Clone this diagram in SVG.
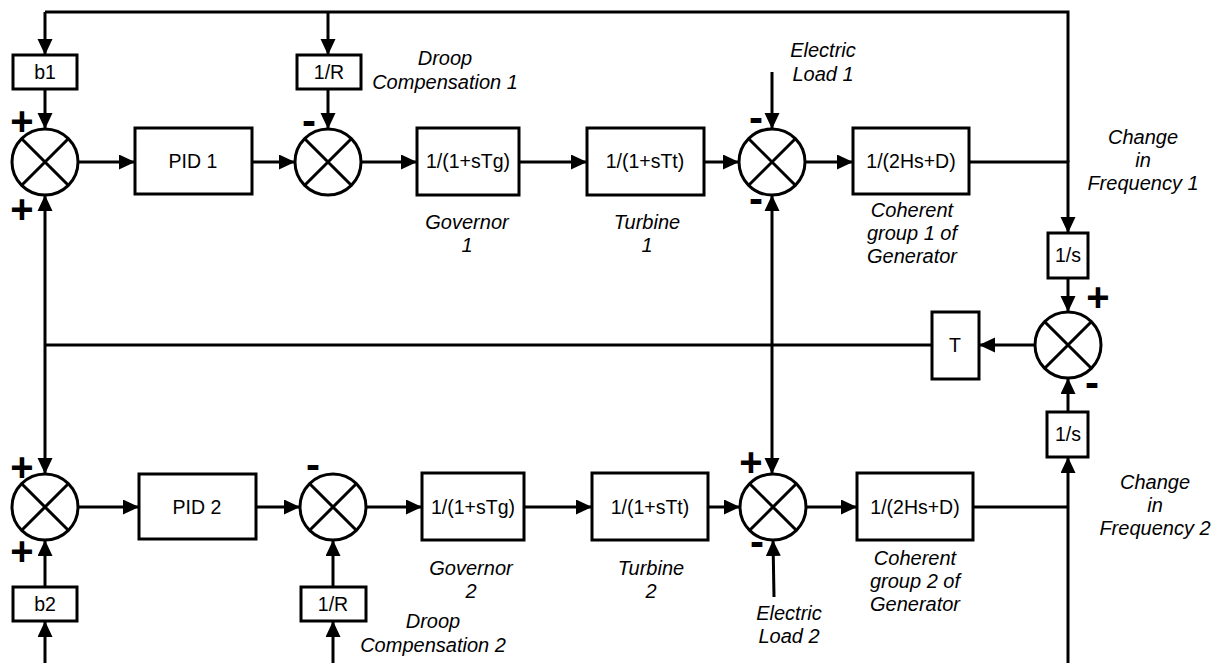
<svg xmlns="http://www.w3.org/2000/svg" width="1223" height="663" viewBox="0 0 1223 663">
<style>
  .ln{fill:none;stroke:#000;stroke-width:3}
  .arr{fill:none;stroke:#000;stroke-width:3;marker-end:url(#ah)}
  .arr2{fill:none;stroke:#000;stroke-width:3;marker-start:url(#ahs);marker-end:url(#ah)}
  .box{fill:#fff;stroke:#000;stroke-width:3}
  .sum{fill:#fff;stroke:#000;stroke-width:3}
  .bt{font-family:"Liberation Sans",Arial,sans-serif;font-size:19.5px;text-anchor:middle;fill:#000}
  .lb{font-family:"Liberation Sans",Arial,sans-serif;font-size:20px;font-style:italic;text-anchor:middle;fill:#000}
  .pl{font-family:"Liberation Sans",Arial,sans-serif;font-size:40px;font-weight:bold;text-anchor:middle;fill:#000}
  .mi{font-family:"Liberation Sans",Arial,sans-serif;font-size:42px;font-weight:bold;text-anchor:middle;fill:#000}
</style>
<defs>
  <marker id="ah" markerUnits="userSpaceOnUse" markerWidth="16" markerHeight="16" refX="16" refY="7.5" orient="auto">
    <path d="M0,0 L16,7.5 L0,15 z" fill="#000"/>
  </marker>
  <marker id="ahs" markerUnits="userSpaceOnUse" markerWidth="16" markerHeight="16" refX="0" refY="7.5" orient="auto">
    <path d="M16,0 L0,7.5 L16,15 z" fill="#000"/>
  </marker>
  <g id="sj">
    <circle cx="0" cy="0" r="33" class="sum"/>
    <path d="M-23.3,-23.3 L23.3,23.3 M23.3,-23.3 L-23.3,23.3" class="ln"/>
  </g>
</defs>
<rect width="1223" height="663" fill="#fff"/>

<g id="connectors">
  <path class="ln" d="M45,12 L1068,12 L1068,162"/>
  <path class="arr" d="M45,12 L45,55"/>
  <path class="arr" d="M328,12 L328,55"/>
  <path class="arr" d="M45,89 L45,129"/>
  <path class="arr" d="M328,89 L328,129"/>
  <path class="arr" d="M78,162 L135,162"/>
  <path class="arr" d="M252,162 L295,162"/>
  <path class="arr" d="M361,162 L417,162"/>
  <path class="arr" d="M519,162 L587,162"/>
  <path class="arr" d="M704,162 L739,162"/>
  <path class="arr" d="M805,162 L853,162"/>
  <path class="arr" d="M969,162 L1068,162 L1068,233"/>
  <path class="arr" d="M772,72 L772,129"/>
  <path class="arr2" d="M45,195 L45,474"/>
  <path class="arr2" d="M772,195 L772,474"/>
  <path class="arr" d="M1068,278 L1068,312"/>
  <path class="arr" d="M1035,345 L979,345"/>
  <path class="ln" d="M932,345 L45,345"/>
  <path class="arr" d="M1068,412 L1068,378"/>
  <path class="arr" d="M1068,663 L1068,457"/>
  <path class="arr" d="M78,507 L139,507"/>
  <path class="arr" d="M256,507 L300,507"/>
  <path class="arr" d="M366,507 L422,507"/>
  <path class="arr" d="M524,507 L592,507"/>
  <path class="arr" d="M708,507 L740,507"/>
  <path class="arr" d="M806,507 L857,507"/>
  <path class="ln" d="M973,507 L1068,507"/>
  <path class="arr" d="M45,587 L45,540"/>
  <path class="arr" d="M45,663 L45,621"/>
  <path class="arr" d="M333,587 L333,540"/>
  <path class="arr" d="M333,663 L333,621"/>
  <path class="arr" d="M774,597 L773,540"/>
</g>

<g id="b1"><rect class="box" x="13" y="55" width="64" height="34"/><text class="bt" x="45" y="79">b1</text></g>
<g id="r1"><rect class="box" x="297" y="55" width="64" height="34"/><text class="bt" x="329" y="79">1/R</text></g>
<g id="sum1"><use href="#sj" x="45" y="162"/></g>
<g id="sum2"><use href="#sj" x="328" y="162"/></g>
<g id="sum3"><use href="#sj" x="772" y="162"/></g>
<g id="pid1"><rect class="box" x="135" y="128" width="117" height="66"/><text class="bt" x="193" y="168">PID 1</text></g>
<g id="gov1"><rect class="box" x="417" y="128" width="102" height="67"/><text class="bt" x="468" y="168">1/(1+sTg)</text></g>
<g id="tur1"><rect class="box" x="587" y="128" width="117" height="67"/><text class="bt" x="645" y="168">1/(1+sTt)</text></g>
<g id="gen1"><rect class="box" x="853" y="128" width="116" height="66"/><text class="bt" x="911" y="168">1/(2Hs+D)</text></g>
<g id="int1"><rect class="box" x="1048" y="233" width="40" height="45"/><text class="bt" x="1068" y="262">1/s</text></g>
<g id="sum4"><use href="#sj" x="1068" y="345"/></g>
<g id="tblk"><rect class="box" x="932" y="312" width="47" height="67"/><text class="bt" x="955" y="352">T</text></g>
<g id="int2"><rect class="box" x="1047" y="412" width="41" height="45"/><text class="bt" x="1068" y="441">1/s</text></g>
<g id="sum5"><use href="#sj" x="45" y="507"/></g>
<g id="sum6"><use href="#sj" x="333" y="507"/></g>
<g id="sum7"><use href="#sj" x="773" y="507"/></g>
<g id="pid2"><rect class="box" x="139" y="474" width="117" height="65"/><text class="bt" x="197" y="514">PID 2</text></g>
<g id="gov2"><rect class="box" x="422" y="473" width="102" height="67"/><text class="bt" x="473" y="514">1/(1+sTg)</text></g>
<g id="tur2"><rect class="box" x="592" y="473" width="116" height="67"/><text class="bt" x="650" y="514">1/(1+sTt)</text></g>
<g id="gen2"><rect class="box" x="857" y="473" width="116" height="67"/><text class="bt" x="915" y="514">1/(2Hs+D)</text></g>
<g id="b2"><rect class="box" x="13" y="587" width="64" height="34"/><text class="bt" x="45" y="611">b2</text></g>
<g id="r2"><rect class="box" x="301" y="587" width="65" height="34"/><text class="bt" x="333" y="611">1/R</text></g>

<g id="labels">
  <text class="lb" x="445" y="65">Droop</text>
  <text class="lb" x="445" y="89">Compensation 1</text>
  <text class="lb" x="467" y="229">Governor</text>
  <text class="lb" x="467" y="252">1</text>
  <text class="lb" x="647" y="229">Turbine</text>
  <text class="lb" x="647" y="252">1</text>
  <text class="lb" x="823" y="57">Electric</text>
  <text class="lb" x="823" y="81">Load 1</text>
  <text class="lb" x="912" y="217">Coherent</text>
  <text class="lb" x="912" y="240">group 1 of</text>
  <text class="lb" x="912" y="263">Generator</text>
  <text class="lb" x="1143" y="144">Change</text>
  <text class="lb" x="1143" y="167">in</text>
  <text class="lb" x="1143" y="190">Frequency 1</text>
  <text class="lb" x="1155" y="489">Change</text>
  <text class="lb" x="1155" y="512">in</text>
  <text class="lb" x="1155" y="535">Frequency 2</text>
  <text class="lb" x="915" y="565">Coherent</text>
  <text class="lb" x="915" y="588">group 2 of</text>
  <text class="lb" x="915" y="611">Generator</text>
  <text class="lb" x="471" y="575">Governor</text>
  <text class="lb" x="471" y="598">2</text>
  <text class="lb" x="651" y="575">Turbine</text>
  <text class="lb" x="651" y="598">2</text>
  <text class="lb" x="789" y="620">Electric</text>
  <text class="lb" x="789" y="643">Load 2</text>
  <text class="lb" x="433" y="628">Droop</text>
  <text class="lb" x="433" y="652">Compensation 2</text>
</g>
<g id="signs">
  <text class="pl" x="22" y="135">+</text>
  <text class="pl" x="22" y="223">+</text>
  <text class="mi" x="309" y="135">-</text>
  <text class="mi" x="756" y="132">-</text>
  <text class="mi" x="756" y="213">-</text>
  <text class="pl" x="1098" y="311">+</text>
  <text class="mi" x="1092" y="397">-</text>
  <text class="pl" x="22" y="481">+</text>
  <text class="pl" x="22" y="565">+</text>
  <text class="mi" x="313" y="479">-</text>
  <text class="pl" x="751" y="476">+</text>
  <text class="mi" x="757" y="556">-</text>
</g>
</svg>
